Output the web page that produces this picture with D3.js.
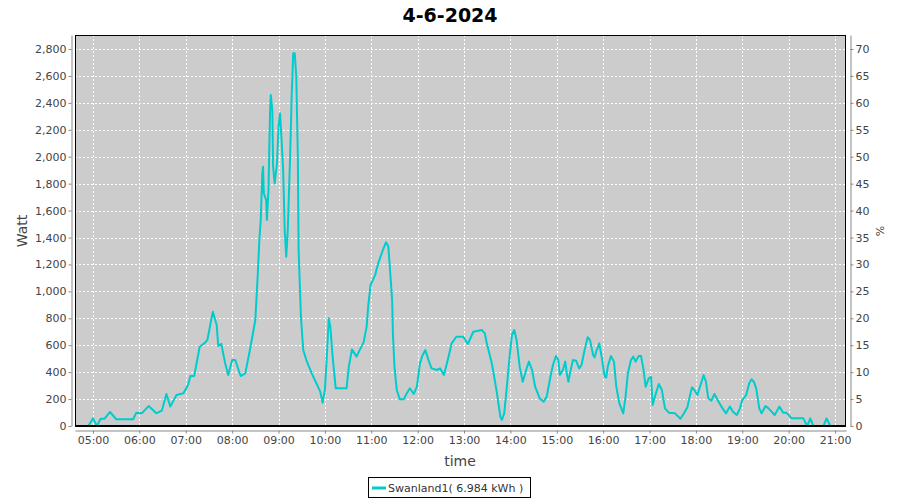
<!DOCTYPE html>
<html><head><meta charset="utf-8">
<script src="https://cdn.jsdelivr.net/npm/d3@7/dist/d3.min.js"></script>
<style>
body{margin:0;background:#fff;}
svg{display:block;font-family:"DejaVu Sans",sans-serif;}
</style>
</head><body>
<svg id="c" width="900" height="500"></svg>
<script>
const chartTitle = "4-6-2024";
const seriesName = "Swanland1( 6.984 kWh )";
const times = ["04:54","05:00","05:05","05:10","05:15","05:22","05:30","05:52","05:56","06:03","06:12","06:22","06:29","06:35","06:40","06:48","06:57","07:03","07:06","07:11","07:18","07:25","07:28","07:35","07:40","07:42","07:46","07:51","07:55","08:00","08:04","08:11","08:17","08:23","08:30","08:33","08:35","08:37","08:39","08:40","08:41","08:44","08:45","08:47","08:49","08:50","08:52","08:53","08:55","08:58","09:00","09:02","09:04","09:06","09:08","09:10","09:12","09:15","09:17","09:19","09:21","09:23","09:25","09:26","09:29","09:32","09:36","09:43","09:49","09:54","09:57","10:00","10:03","10:05","10:07","10:10","10:14","10:28","10:31","10:35","10:41","10:45","10:50","10:54","10:56","10:59","11:05","11:09","11:15","11:19","11:22","11:24","11:27","11:28","11:30","11:33","11:37","11:42","11:46","11:50","11:55","11:59","12:03","12:06","12:10","12:14","12:18","12:25","12:29","12:34","12:40","12:44","12:50","12:59","13:05","13:12","13:23","13:27","13:29","13:36","13:42","13:47","13:49","13:52","13:55","13:59","14:02","14:05","14:08","14:12","14:16","14:21","14:24","14:28","14:32","14:38","14:43","14:47","14:51","14:55","14:59","15:02","15:04","15:08","15:11","15:13","15:15","15:18","15:21","15:25","15:29","15:32","15:36","15:40","15:43","15:47","15:49","15:51","15:55","15:58","16:02","16:04","16:06","16:10","16:14","16:17","16:21","16:26","16:29","16:32","16:36","16:39","16:42","16:46","16:49","16:52","16:55","16:59","17:02","17:04","17:07","17:12","17:16","17:20","17:25","17:33","17:40","17:44","17:49","17:52","17:55","17:58","18:02","18:06","18:10","18:13","18:16","18:20","18:24","18:28","18:33","18:39","18:44","18:48","18:53","18:57","19:00","19:05","19:09","19:12","19:15","19:18","19:22","19:25","19:30","19:34","19:42","19:48","19:53","19:57","20:04","20:19","20:24","20:28","20:32","20:45","20:49","20:54"];
const watts = [0,57,0,54,54,104,50,50,99,94,148,94,114,238,144,230,243,305,371,372,589,619,640,849,750,594,610,465,379,490,490,371,391,564,787,1109,1357,1530,1877,1926,1728,1679,1530,1753,2322,2458,2347,1926,1802,1951,2223,2322,2124,1901,1456,1257,1456,2000,2446,2768,2768,2594,2000,1307,812,564,490,391,317,255,173,267,564,800,738,515,280,280,441,569,515,564,619,738,886,1047,1121,1208,1307,1364,1337,1183,936,688,441,267,198,198,243,280,238,292,465,520,564,490,428,416,428,379,515,614,663,663,609,700,713,688,626,465,267,69,45,94,267,515,676,713,639,441,329,428,478,416,292,205,181,218,342,453,520,490,379,416,478,391,329,416,490,485,428,453,564,659,640,527,510,552,614,515,366,361,441,520,478,292,168,94,218,391,490,515,478,520,520,428,292,354,366,156,218,312,267,131,99,94,54,89,139,218,287,267,230,305,379,329,205,188,238,193,144,94,144,106,82,131,193,230,317,347,329,280,131,94,148,131,82,144,99,99,57,57,0,57,0,0,57,0];
const wattTicks = [0,200,400,600,800,1000,1200,1400,1600,1800,2000,2200,2400,2600,2800];
const pctTicks = [0,5,10,15,20,25,30,35,40,45,50,55,60,65,70];
const hourTicks = ["05:00","06:00","07:00","08:00","09:00","10:00","11:00","12:00","13:00","14:00","15:00","16:00","17:00","18:00","19:00","20:00","21:00"];

const L = 75, R = 846, T = 35, B = 426;
const svg = d3.select("#c");
const toDate = s => { const [h, m] = s.split(":").map(Number); return new Date(2024, 5, 4, h, m, 0); };
const data = times.map((t, i) => ({ t: toDate(t), v: watts[i] }));

const x = d3.scaleTime().domain([new Date(2024,5,4,4,36,42), new Date(2024,5,4,21,14,12)]).range([L, R]);
const y = d3.scaleLinear().domain([0, 2904]).range([B, T]);
const y2 = d3.scaleLinear().domain([0, 72.6]).range([B, T]);

// title
svg.append("text").attr("x", 450).attr("y", 22).attr("text-anchor", "middle")
  .attr("font-size", 19).attr("font-weight", "bold").attr("fill", "#000").text(chartTitle);

// plot background
svg.append("rect").attr("x", L).attr("y", T).attr("width", R - L).attr("height", B - T).attr("fill", "#cccccc");

// gridlines
const grid = svg.append("g").attr("stroke", "#fff").attr("stroke-width", 1).attr("stroke-dasharray", "2,2");
hourTicks.map(toDate).forEach(d => {
  const px = Math.round(x(d)) + 0.5;
  grid.append("line").attr("x1", px).attr("x2", px).attr("y1", T).attr("y2", B);
});
wattTicks.forEach(v => {
  const py = Math.round(y(v)) + 0.5;
  grid.append("line").attr("x1", L).attr("x2", R).attr("y1", py).attr("y2", py);
});

// line
svg.append("clipPath").attr("id", "clip").append("rect").attr("x", L).attr("y", T).attr("width", R - L).attr("height", B - T);
svg.append("path").datum(data).attr("clip-path", "url(#clip)")
  .attr("fill", "none").attr("stroke", "#00cccc").attr("stroke-width", 2).attr("stroke-linejoin", "round")
  .attr("d", d3.line().x(d => x(d.t)).y(d => y(d.v)));

// border
svg.append("rect").attr("x", L + 0.5).attr("y", T + 0.5).attr("width", R - L - 1).attr("height", B - T - 1)
  .attr("fill", "none").attr("stroke", "#000").attr("stroke-width", 1);
svg.append("line").attr("x1", L).attr("x2", R).attr("y1", B).attr("y2", B).attr("stroke", "#000").attr("stroke-width", 2);

function styleAxis(g) {
  g.selectAll(".domain").attr("stroke", "#888");
  g.selectAll(".tick line").attr("stroke", "#888");
  g.selectAll(".tick text").attr("fill", "#444").attr("font-size", 11).attr("font-family", "DejaVu Sans, sans-serif");
}

// left axis
const gl = svg.append("g").attr("transform", "translate(71.5,0)")
  .call(d3.axisLeft(y).tickValues(wattTicks).tickFormat(d3.format(",")).tickSizeInner(3).tickSizeOuter(0).tickPadding(2));
styleAxis(gl);
// right axis
const gr = svg.append("g").attr("transform", "translate(850.5,0)")
  .call(d3.axisRight(y2).tickValues(pctTicks).tickSizeInner(3).tickSizeOuter(0).tickPadding(2));
styleAxis(gr);
// bottom axis
const gb = svg.append("g").attr("transform", "translate(0,430.5)")
  .call(d3.axisBottom(x).tickValues(hourTicks.map(toDate)).tickFormat(d3.timeFormat("%H:%M")).tickSizeInner(3).tickSizeOuter(0).tickPadding(3));
styleAxis(gb);

// axis titles
svg.append("text").attr("transform", "translate(27,231) rotate(-90)").attr("text-anchor", "middle")
  .attr("font-size", 14).attr("fill", "#444").text("Watt");
svg.append("text").attr("transform", "translate(884,231) rotate(-90)").attr("text-anchor", "middle")
  .attr("font-size", 11).attr("fill", "#444").text("%");
svg.append("text").attr("x", 460).attr("y", 466).attr("text-anchor", "middle")
  .attr("font-size", 14).attr("fill", "#444").text("time");

// legend
const lg = svg.append("g");
lg.append("rect").attr("x", 368.5).attr("y", 477.5).attr("width", 162).attr("height", 20)
  .attr("fill", "#fff").attr("stroke", "#000").attr("stroke-width", 1);
lg.append("line").attr("x1", 372).attr("x2", 386).attr("y1", 488).attr("y2", 488)
  .attr("stroke", "#00cccc").attr("stroke-width", 3);
lg.append("text").attr("x", 388).attr("y", 492).attr("font-size", 11).attr("fill", "#333").text(seriesName);
</script>
</body></html>
